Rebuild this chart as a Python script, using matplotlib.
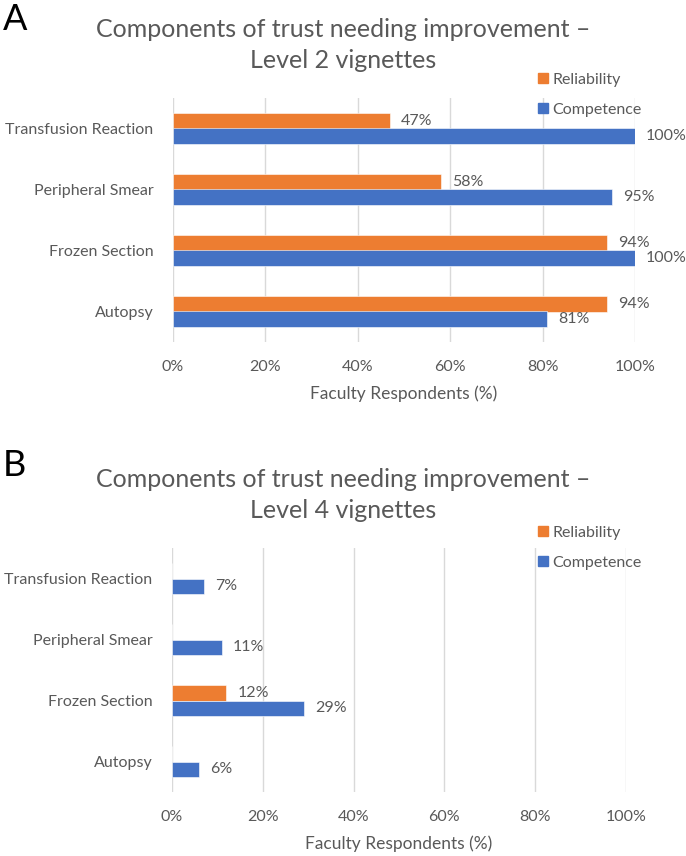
import matplotlib
matplotlib.use("Agg")
import matplotlib.pyplot as plt
from matplotlib.patches import Patch
import numpy as np

plt.rcParams['font.family'] = ['Lato', 'DejaVu Sans']

categories = ["Autopsy", "Frozen Section", "Peripheral Smear", "Transfusion Reaction"]
xticks = [0, 20, 40, 60, 80, 100]
xtick_labels = ["0%", "20%", "40%", "60%", "80%", "100%"]

titleA = "Components of trust needing improvement –\nLevel 2 vignettes"
reliabilityA = [94, 94, 58, 47]
competenceA = [81, 100, 95, 100]

titleB = "Components of trust needing improvement –\nLevel 4 vignettes"
reliabilityB = [0, 12, 0, 0]
competenceB = [6, 29, 11, 7]

ORANGE = "#ED7D31"
BLUE = "#4472C4"
GRAY = "#595959"
GRID = "#D9D9D9"

W, H = 686, 856
fig = plt.figure(figsize=(W / 100, H / 100), dpi=100)


def px_axes(l, r, t, b):
    return fig.add_axes([l / W, 1 - b / H, (r - l) / W, (b - t) / H])


def draw(ax, rel, comp, title, title_y, leg_y, letter, letter_y):
    y = np.arange(len(categories))
    h = 0.262
    ax.barh(y + h / 2, rel, height=h, color=ORANGE, edgecolor="white", linewidth=0.4, zorder=3)
    ax.barh(y - h / 2, comp, height=h, color=BLUE, edgecolor="white", linewidth=0.4, zorder=3)
    for yi, v in zip(y, rel):
        if v > 0:
            ax.annotate(f"{v}%", (v, yi + h / 2), xytext=(8, 0), textcoords="offset points",
                        va="center", ha="left", fontsize=11.5, color=GRAY)
    for yi, v in zip(y, comp):
        if v > 0:
            ax.annotate(f"{v}%", (v, yi - h / 2), xytext=(8, 0), textcoords="offset points",
                        va="center", ha="left", fontsize=11.5, color=GRAY)
    ax.set_xlim(0, 100)
    ax.set_ylim(-0.5, len(categories) - 0.5)
    ax.set_xticks(xticks)
    ax.set_xticklabels(xtick_labels)
    ax.set_yticks(y)
    ax.set_yticklabels(categories)
    ax.tick_params(axis="both", length=0, labelsize=11.5, labelcolor=GRAY)
    ax.tick_params(axis="x", pad=13)
    ax.tick_params(axis="y", pad=14)
    ax.grid(axis="x", color=GRID, linewidth=1, zorder=0)
    for s in ax.spines.values():
        s.set_visible(False)
    ax.set_xlabel("Faculty Respondents (%)", fontsize=12.5, color=GRAY, labelpad=8)
    fig.text(343 / W, 1 - title_y / H, title, ha="center", va="center", fontsize=18,
             color=GRAY, linespacing=1.45)
    fig.text(3 / W, 1 - letter_y / H, letter, ha="left", va="center", fontsize=26, color="black")
    handles = [Patch(color=ORANGE, label="Reliability"), Patch(color=BLUE, label="Competence")]
    fig.legend(handles=handles, loc="upper left", bbox_to_anchor=(538 / W, 1 - leg_y / H),
               frameon=False, fontsize=11.5, handlelength=0.6, handleheight=0.6,
               handletextpad=0.3, labelspacing=1.0, borderpad=0, borderaxespad=0,
               labelcolor=GRAY)


axA = px_axes(173, 635, 98, 342)
draw(axA, reliabilityA, competenceA, titleA, 45, 73, "A", 19)

axB = px_axes(172, 626, 548, 792)
draw(axB, reliabilityB, competenceB, titleB, 495, 526, "B", 466)

fig.savefig("out.png", dpi=100)
